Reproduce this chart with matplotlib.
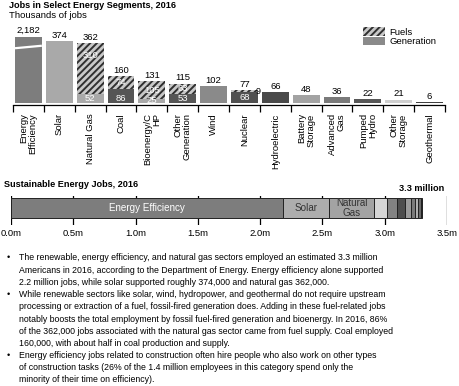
import matplotlib
matplotlib.use("Agg")
import matplotlib.pyplot as plt
from matplotlib.patches import Patch

plt.rcParams['font.family'] = ['Liberation Sans', 'DejaVu Sans']
plt.rcParams['hatch.linewidth'] = 1.4

# top chart data (thousands of jobs)
categories = ["Energy\nEfficiency", "Solar", "Natural Gas", "Coal", "Bioenergy/C\nHP",
              "Other\nGeneration", "Wind", "Nuclear", "Hydroelectric", "Battery\nStorage",
              "Advanced\nGas", "Pumped\nHydro", "Other\nStorage", "Geothermal"]
totals = [2182, 374, 362, 160, 131, 115, 102, 77, 66, 48, 36, 22, 21, 6]
generation = [2182, 374, 52, 86, 25, 53, 102, 68, 66, 48, 36, 22, 21, 6]
fuels = [0, 0, 310, 74, 105, 63, 0, 9, 0, 0, 0, 0, 0, 0]
gen_colors = ["#7d7d7d", "#a9a9a9", "#a9a9a9", "#555555", "#a9a9a9", "#555555", "#8a8a8a",
              "#505050", "#4a4a4a", "#a3a3a3", "#7a7a7a", "#575757", "#cfcfcf", "#404040"]

# bottom chart data (millions of jobs)
seg_names = ["Energy Efficiency", "Solar", "Natural\nGas", "Wind", "Nuclear", "Hydroelectric",
             "Battery Storage", "Advanced Gas", "Pumped Hydro", "Other Storage", "Geothermal"]
seg_values = [2.182, 0.374, 0.362, 0.102, 0.077, 0.066, 0.048, 0.036, 0.022, 0.021, 0.006]
seg_colors = ["#7d7d7d", "#adadad", "#a3a3a3", "#d6d6d6", "#828282", "#4d4d4d", "#9a9a9a",
              "#7a7a7a", "#b0b0b0", "#6a6a6a", "#404040"]
xticks_m = [0.0, 0.5, 1.0, 1.5, 2.0, 2.5, 3.0, 3.5]

bullets = [
    ["The renewable, energy efficiency, and natural gas sectors employed an estimated 3.3 million",
     "Americans in 2016, according to the Department of Energy. Energy efficiency alone supported",
     "2.2 million jobs, while solar supported roughly 374,000 and natural gas 362,000."],
    ["While renewable sectors like solar, wind, hydropower, and geothermal do not require upstream",
     "processing or extraction of a fuel, fossil-fired generation does. Adding in these fuel-related jobs",
     "notably boosts the total employment by fossil fuel-fired generation and bioenergy. In 2016, 86%",
     "of the 362,000 jobs associated with the natural gas sector came from fuel supply. Coal employed",
     "160,000, with about half in coal production and supply."],
    ["Energy efficiency jobs related to construction often hire people who also work on other types",
     "of construction tasks (26% of the 1.4 million employees in this category spend only the",
     "minority of their time on efficiency)."],
]

W, H = 459, 386
fig = plt.figure(figsize=(W / 100, H / 100), dpi=100)

def fx(px):
    return px / W

def fy(px):
    return 1 - px / H

fs = 6.5
hatch_face = "#c8c8c8"
hatch_line = "#303030"
fig.text(fx(9), fy(5), "Jobs in Select Energy Segments, 2016", fontsize=6.6, fontweight='bold', va='center')
fig.text(fx(9), fy(16), "Thousands of jobs", fontsize=fs + 0.3, va='center')

# ---- top bar chart ----
ax = fig.add_axes([fx(13), fy(105), fx(445) - fx(13), fy(20) - fy(105)])
cap = 400  # Energy Efficiency bar is broken
x = list(range(len(categories)))
shown_gen = [min(g, cap) for g in generation]
ax.bar(x, shown_gen, width=0.87, color=gen_colors, linewidth=0)
ax.bar(x, fuels, bottom=shown_gen, width=0.87, color=hatch_face, edgecolor=hatch_line,
       hatch="/////", linewidth=0)
# break mark on the capped bar
ax.plot([-0.435, 0.435], [330, 345], color="white", lw=1.6, solid_capstyle='butt')

for i in x:
    top = min(totals[i], cap) if fuels[i] == 0 else shown_gen[i] + fuels[i]
    ax.text(i, top + 8, f"{totals[i]:,}", ha='center', va='bottom', fontsize=fs + 0.3)
    if fuels[i] >= 20:
        yf = max(shown_gen[i] + fuels[i] / 2, shown_gen[i] + fuels[i] - 75)
        ax.text(i, yf, str(fuels[i]), ha='center', va='center', fontsize=fs + 0.3, color='white')
        ax.text(i, min(shown_gen[i] / 2, 30), str(generation[i]), ha='center', va='center',
                fontsize=fs + 0.3, color='white')
    elif fuels[i] > 0:
        ax.text(i + 0.36, shown_gen[i] + fuels[i] - 6, str(fuels[i]), ha='left', va='center', fontsize=fs)
        ax.text(i, shown_gen[i] / 2, str(generation[i]), ha='center', va='center', fontsize=fs + 0.3,
                color='white')

ax.set_xlim(-0.5, len(categories) - 0.5)
ax.set_ylim(-12, 500)
for s in ['top', 'right', 'left']:
    ax.spines[s].set_visible(False)
ax.spines['bottom'].set_linewidth(0.9)
ax.set_yticks([])
ax.set_xticks(x)
ax.set_xticklabels(categories, rotation=90, fontsize=fs + 0.3, va='top', ha='center',
                   multialignment='right', linespacing=1.0)
ax.set_xticks([i - 0.5 for i in range(len(categories) + 1)], minor=True)
ax.tick_params(axis='x', which='major', length=0, pad=6)
ax.tick_params(axis='x', which='minor', length=5, width=0.9, direction='out')

fig.legend(handles=[Patch(facecolor=hatch_face, edgecolor=hatch_line, hatch="/////", linewidth=0),
                    Patch(facecolor="#8a8a8a", linewidth=0)],
           labels=["Fuels", "Generation"], loc='upper left',
           bbox_to_anchor=(fx(363), fy(27)), frameon=False, fontsize=fs + 0.3,
           handlelength=2.3, handleheight=1.05, labelspacing=0.0, handletextpad=0.5,
           borderpad=0, borderaxespad=0)

# ---- bottom stacked bar ----
fig.text(fx(4), fy(185), "Sustainable Energy Jobs, 2016", fontsize=6.6, fontweight='bold', va='center')
bx = fig.add_axes([fx(11), fy(225), fx(447) - fx(11), fy(196) - fy(225)])
for t in xticks_m:
    bx.axvline(t, color='black', lw=0.9, zorder=0)
left = 0
for name, v, c in zip(seg_names, seg_values, seg_colors):
    bx.barh(0.585, v, left=left, height=0.69, color=c, edgecolor='#222222', linewidth=0.7, zorder=2)
    if v > 0.3:
        tc = 'white' if name == "Energy Efficiency" else '#333333'
        bx.text(left + v / 2, 0.585, name, ha='center', va='center', fontsize=fs + 0.6, color=tc,
                linespacing=0.9, zorder=3)
    left += v
bx.text(left, 1.12, f"{round(left, 1)} million", ha='center', va='bottom', fontsize=6.6,
        fontweight='bold')
bx.set_xlim(0, 3.5)
bx.set_ylim(0, 1)
for s in bx.spines.values():
    s.set_visible(False)
bx.set_yticks([])
bx.set_xticks(xticks_m)
bx.set_xticklabels([f"{t:.1f}m" for t in xticks_m], fontsize=fs + 0.3)
bx.tick_params(axis='x', length=0, pad=3)

# ---- bullet text ----
y0 = 258
i = 0
for para in bullets:
    fig.text(fx(7), fy(y0 + i * 12.2), "\u2022", fontsize=fs, va='center')
    for line in para:
        fig.text(fx(19), fy(y0 + i * 12.2), line, fontsize=6.35, va='center')
        i += 1

fig.savefig("out.png", dpi=100)
